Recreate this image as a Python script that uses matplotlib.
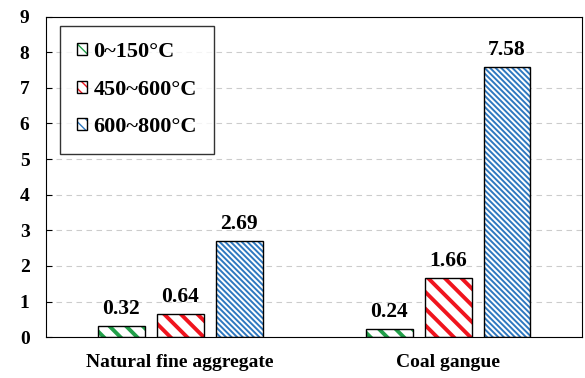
import matplotlib.pyplot as plt
from matplotlib.patches import Patch
from matplotlib.legend_handler import HandlerTuple
import numpy as np

plt.rcParams['font.family'] = 'Liberation Serif'
plt.rcParams['font.weight'] = 'bold'

categories = ['Natural fine aggregate', 'Coal gangue']
series = ['0~150°C', '450~600°C', '600~800°C']
values = {
    '0~150°C': [0.32, 0.24],
    '450~600°C': [0.64, 1.66],
    '600~800°C': [2.69, 7.58],
}
colors = ['#22a04a', '#f0141e', '#2e78c0']
hatches = ['\\\\', '\\\\', '\\' * 6]
hatch_lw = [2.8, 2.8, 1.4]

fig, ax = plt.subplots(figsize=(5.85, 3.78), dpi=100)
fig.subplots_adjust(left=0.079, right=0.995, top=0.956, bottom=0.108)

x = np.arange(len(categories))
width = 0.175
step = 0.22

for i, name in enumerate(series):
    pos = x + (i - 1) * step
    bars = ax.bar(pos, values[name], width, facecolor='white', edgecolor=colors[i],
                  hatch=hatches[i], linewidth=0, zorder=2)
    for b in bars:
        if hasattr(b, 'set_hatch_linewidth'):
            b.set_hatch_linewidth(hatch_lw[i])
    ax.bar(pos, values[name], width, fill=False, edgecolor='black', linewidth=1.0, zorder=3)
    for p, v in zip(pos, values[name]):
        ax.annotate(f'{v:.2f}', (p, v), xytext=(0, 5), textcoords='offset points',
                    ha='center', va='bottom', fontsize=15.5, fontweight='bold')

ax.set_xlim(-0.5, 1.5)
ax.set_ylim(0, 9)
ax.set_yticks(range(0, 10))
ax.set_xticks(x)
ax.set_xticklabels(categories)
ax.tick_params(axis='y', direction='in', length=4, labelsize=14, pad=12)
ax.tick_params(axis='x', length=0, labelsize=14, pad=12)
ax.yaxis.grid(True, linestyle='--', color='#cccccc', linewidth=0.8, dashes=(5, 4))
ax.set_axisbelow(True)

handles = []
for i, name in enumerate(series):
    h = Patch(facecolor='white', edgecolor=colors[i], hatch='\\\\\\', linewidth=0)
    if hasattr(h, 'set_hatch_linewidth'):
        h.set_hatch_linewidth(2.0)
    frame = Patch(fill=False, edgecolor='black', linewidth=1.0)
    handles.append((h, frame))
leg = ax.legend(handles=handles, labels=series, handler_map={tuple: HandlerTuple(ndivide=1, pad=0)},
                loc='upper left', bbox_to_anchor=(0.026, 0.972), fontsize=16,
                frameon=True, fancybox=False, edgecolor='black', labelspacing=0.78,
                handlelength=0.45, handleheight=0.45, handletextpad=0.3, borderpad=0.75,
                borderaxespad=0)
leg.get_frame().set_linewidth(1.0)

plt.savefig('out.png')
